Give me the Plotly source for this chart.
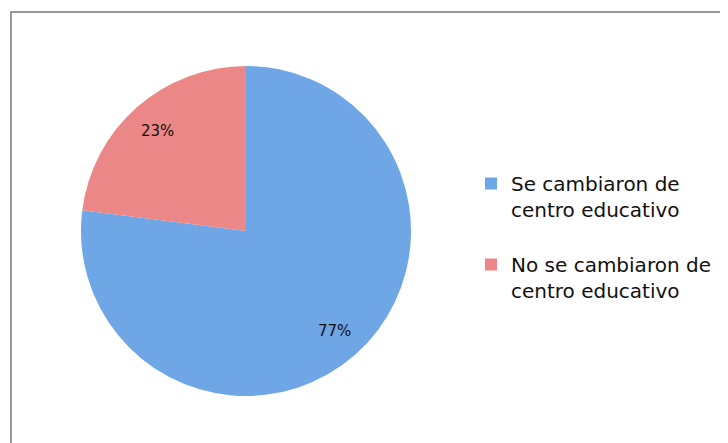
import math
import plotly.graph_objects as go

labels = ["Se cambiaron de<br>centro educativo", "No se cambiaron de<br>centro educativo"]
values = [77, 23]
colors = ["#6fa6e6", "#ec8787"]

W, H = 720, 435
CX, CY, R = 238, 223, 165  # pie centre / radius in figure pixels
label_radius = 0.81

spacer = "<br><span style='font-size:10px'> </span>"

fig = go.Figure(go.Pie(
    labels=[l + spacer for l in labels],
    values=values,
    sort=False,
    direction="clockwise",
    rotation=0,
    marker=dict(colors=colors, line=dict(width=0)),
    textinfo="none",
    domain=dict(x=[(CX - R) / W, (CX + R) / W], y=[1 - (CY + R) / H, 1 - (CY - R) / H]),
    hoverinfo="skip",
))

# percentage labels placed at the middle angle of each slice
total = sum(values)
cum = 0
annotations = []
for v in values:
    mid = (cum + v / 2) / total * 2 * math.pi
    cum += v
    px = CX + label_radius * R * math.sin(mid)
    py = CY - label_radius * R * math.cos(mid)
    annotations.append(dict(
        x=px / W, y=1 - py / H, xref="paper", yref="paper",
        xanchor="center", yanchor="middle",
        text=f"{round(100 * v / total)}%", showarrow=False,
        font=dict(family="DejaVu Sans", size=15, color="#111111"),
    ))

fig.update_layout(
    width=W, height=H,
    margin=dict(l=0, r=0, t=0, b=0),
    paper_bgcolor="white",
    plot_bgcolor="white",
    showlegend=True,
    legend=dict(
        x=463 / W, y=1 - 156 / H, xanchor="left", yanchor="top",
        font=dict(family="DejaVu Sans", size=20, color="#111111"),
        itemwidth=30,
        valign="top",
        bgcolor="rgba(0,0,0,0)",
    ),
    annotations=annotations,
    shapes=[dict(
        type="rect", xref="paper", yref="paper",
        x0=3 / W, x1=1.05, y0=-0.05, y1=1 - 4 / H,
        line=dict(color="#999999", width=2),
        fillcolor="rgba(0,0,0,0)",
        layer="below",
    )],
)

fig.write_html("out.html")
